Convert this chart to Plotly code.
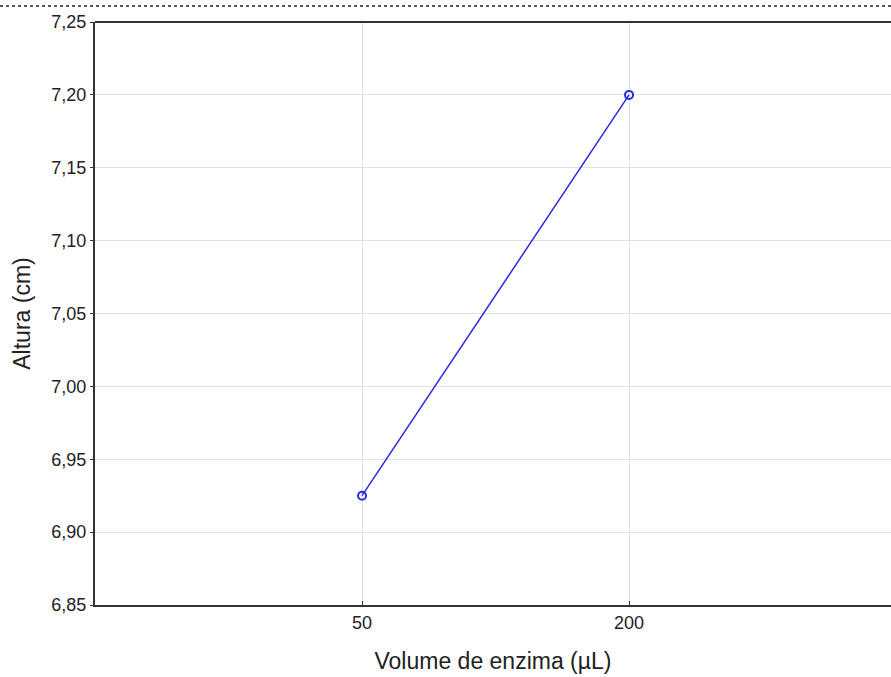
import plotly.graph_objects as go

categories = ["50", "200"]
altura = [6.925, 7.20]
y_ticks = [6.85, 6.90, 6.95, 7.00, 7.05, 7.10, 7.15, 7.20, 7.25]

xpos = list(range(len(categories)))

fig = go.Figure()
fig.add_trace(go.Scatter(
    x=xpos, y=altura, mode="lines+markers",
    line=dict(color="#2a2ae0", width=1.5),
    marker=dict(symbol="circle-open", size=8, color="#2a2ae0", line=dict(width=2)),
    showlegend=False, cliponaxis=False,
))

fig.update_layout(
    width=891, height=677,
    margin=dict(l=95, r=0, t=22, b=72),
    paper_bgcolor="white", plot_bgcolor="white",
    separators=",.",
    font=dict(family="Liberation Sans, Arial, sans-serif", size=18, color="#222222"),
    xaxis=dict(
        range=[-1, 1.981], tickvals=xpos, ticktext=categories,
        showgrid=True, gridcolor="#e2e2e2", gridwidth=1,
        showline=True, linecolor="#333333", linewidth=2,
        ticks="inside", ticklen=4, tickcolor="#333333",
        zeroline=False,
        title=dict(text="Volume de enzima (µL)", font=dict(size=23), standoff=21),
    ),
    yaxis=dict(
        range=[6.85, 7.25], tickvals=y_ticks, tickformat=".2f",
        showgrid=True, gridcolor="#e2e2e2", gridwidth=1,
        showline=True, linecolor="#333333", linewidth=2,
        ticks="outside", ticklen=3, tickcolor="#333333",
        zeroline=False,
        title=dict(text="Altura (cm)", font=dict(size=23), standoff=14),
    ),
    shapes=[
        dict(type="line", xref="paper", yref="paper", x0=0, x1=1, y0=1, y1=1,
             line=dict(color="#333333", width=2)),
        dict(type="line", xref="paper", yref="paper", x0=-95/796, x1=1,
             y0=1 + 16/583, y1=1 + 16/583,
             line=dict(color="#222222", width=1.5, dash="dot")),
    ],
)

fig.write_html("out.html", config={"displayModeBar": False},
               post_script="document.body.style.margin='0';")
